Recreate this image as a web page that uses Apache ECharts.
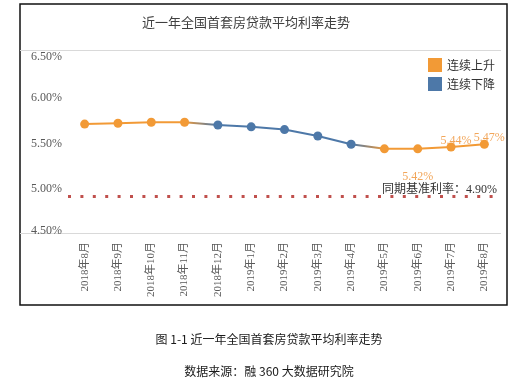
<!DOCTYPE html>
<html><head><meta charset="utf-8">
<script src="https://cdn.jsdelivr.net/npm/echarts@6/dist/echarts.min.js"></script>
<style>html,body{margin:0;padding:0;background:#fff}#c{width:529px;height:382px}</style>
</head><body><div id="c"></div>
<script>
var categories = ['2018年8月','2018年9月','2018年10月','2018年11月','2018年12月','2019年1月','2019年2月','2019年3月','2019年4月','2019年5月','2019年6月','2019年7月','2019年8月'];
var rates = [5.69,5.70,5.71,5.71,5.68,5.66,5.63,5.56,5.47,5.42,5.42,5.44,5.47];
var trend = ['up','up','up','up','down','down','down','down','down','up','up','up','up'];
var labeled = [10,11,12];
var benchmark = 4.90;
var yTicks = [4.5,5.0,5.5,6.0,6.5];

var ORANGE = '#f29a36', BLUE = '#4d78a8', LABEL_ORANGE = '#f2a65a';
var serif = '"Liberation Serif","Noto Sans CJK SC",serif';
var cjk = '"Noto Sans CJK SC","Noto Sans",sans-serif';

var n = rates.length;
var stops = [];
for (var i = 0; i < n; i++) {
  stops.push({offset: i/(n-1), color: trend[i]==='up'?ORANGE:BLUE});
}
var lineData = rates.map(function(v,i){
  var d = {value: v, itemStyle:{color: trend[i]==='up'?ORANGE:BLUE}};
  if (labeled.indexOf(i) >= 0) {
    var below = (i===10);
    d.label = {show:true, position: below?'bottom':'top', distance: below?18:0,
      offset: below?[0,0]:[5,4],
      formatter: v.toFixed(2)+'%', color: LABEL_ORANGE, fontSize: 12, fontFamily: serif};
  }
  return d;
});

var chart = echarts.init(document.getElementById('c'), null, {renderer:'canvas'});
chart.setOption({
  animation:false,
  backgroundColor:'#fff',
  title:[
    {text:'近一年全国首套房贷款平均利率走势', left: 241, top: 11, textAlign:'center',
     textStyle:{fontSize:13, fontWeight:'normal', color:'#404040', fontFamily: cjk}},
    {text:'图 1-1 近一年全国首套房贷款平均利率走势', left: 264, top: 328, textAlign:'center',
     textStyle:{fontSize:12, fontWeight:'normal', color:'#1a1a1a', fontFamily: cjk}},
    {text:'数据来源：融 360 大数据研究院', left: 264, top: 360, textAlign:'center',
     textStyle:{fontSize:12, fontWeight:'normal', color:'#1a1a1a', fontFamily: cjk}}
  ],
  graphic:[{type:'rect', shape:{x:20,y:4,width:487,height:301}, style:{fill:'none', stroke:'#111', lineWidth:1.5}, silent:true}],
  legend:{orient:'vertical', left: 428, top: 58, padding:0, itemWidth:14, itemHeight:14, itemGap:5,
    icon:'rect', data:['连续上升','连续下降'],
    textStyle:{fontSize:12, color:'#333', fontFamily: cjk}},
  grid:[
    {left:68, right:28, top:50, bottom:149},
    {left:20, right:28, top:50, bottom:149}
  ],
  xAxis:[
    {type:'category', gridIndex:0, data:categories, boundaryGap:true,
     axisLine:{show:false}, axisTick:{show:false},
     axisLabel:{rotate:90, margin:9, fontSize:11, color:'#595959', fontFamily: serif, interval:0}},
    {type:'value', gridIndex:1, min:0, max:1, show:false}
  ],
  yAxis:[
    {type:'value', gridIndex:0, min:yTicks[0], max:yTicks[yTicks.length-1], interval:0.5,
     axisLine:{show:false}, axisTick:{show:false}, splitLine:{show:false},
     axisLabel:{align:'left', margin:37, fontSize:12, color:'#595959', fontFamily: serif,
       formatter:function(v){
         var s = v.toFixed(2)+'%';
         if (v === yTicks[yTicks.length-1]) return '{t|'+s+'}';
         if (v === yTicks[0]) return '{b|'+s+'}';
         return '{m|'+s+'}';
       },
       rich:{
         t:{padding:[14,0,0,0], fontSize:12, color:'#595959', fontFamily: serif},
         m:{padding:[4,0,0,0], fontSize:12, color:'#595959', fontFamily: serif},
         b:{padding:[0,0,4,0], fontSize:12, color:'#595959', fontFamily: serif}
       }}},
    {type:'value', gridIndex:1, min:0, max:1, interval:1,
     axisLine:{show:false}, axisTick:{show:false}, axisLabel:{show:false},
     splitLine:{show:true, lineStyle:{color:'#d9d9d9', width:1}}}
  ],
  series:[
    {type:'line', name:'rate', xAxisIndex:0, yAxisIndex:0, data: lineData,
     symbol:'circle', symbolSize:9, z:3,
     lineStyle:{width:2, color: new echarts.graphic.LinearGradient(0,0,1,0, stops)},
     markLine:{silent:true, symbol:['none','none'],
       lineStyle:{type:[3,9.4], color:'#c0504d', width:3, cap:'butt'},
       label:{show:true, position:'insideEndTop', distance:[4,1], formatter:'同期基准利率：'+benchmark.toFixed(2)+'%',
         color:'#333', fontSize:12, fontFamily: serif},
       data:[{yAxis: benchmark}]}
    },
    {type:'line', name:'连续上升', data:[], itemStyle:{color:ORANGE}, lineStyle:{color:ORANGE}},
    {type:'line', name:'连续下降', data:[], itemStyle:{color:BLUE}, lineStyle:{color:BLUE}}
  ]
});
</script></body></html>
